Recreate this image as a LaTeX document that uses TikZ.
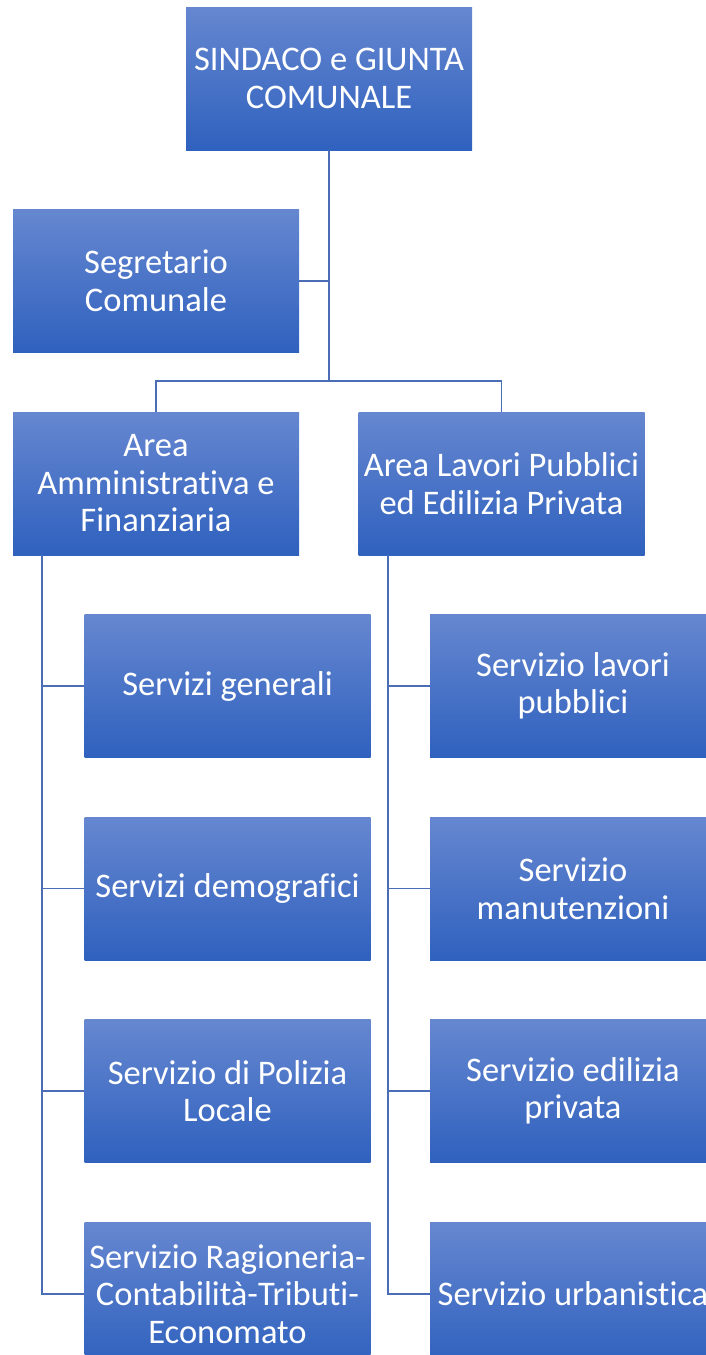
\documentclass[tikz,border=0pt]{standalone}
\usepackage{fontspec}
\setmainfont{Carlito}[Ligatures=NoCommon]
\definecolor{boxtop}{HTML}{6687D0}
\definecolor{boxbot}{HTML}{2F61BE}
\definecolor{linec}{HTML}{4A6DB5}
\begin{document}
\begin{tikzpicture}[x=1pt,y=1pt,
  orgbox/.style={rectangle, inner sep=0pt, minimum width=286pt, minimum height=143pt,
    top color=boxtop, bottom color=boxbot, draw=none, text=white, align=center,
    font=\fontsize{34.5}{37.5}\selectfont},
  conn/.style={draw=linec, line width=1.5pt}]
\useasboundingbox (0,-1355) rectangle (706,0);
\clip (0,-1355) rectangle (706,0);
% boxes
\node[orgbox] (top) at (329,-78.5) {SINDACO e GIUNTA\\COMUNALE};
\node[orgbox] (seg) at (156,-281) {Segretario\\Comunale};
\node[orgbox] (amm) at (156,-483.5) {Area\\Amministrativa e\\Finanziaria};
\node[orgbox] (lav) at (501.5,-483.5) {Area Lavori Pubblici\\ed Edilizia Privata};
\node[orgbox] (l1) at (227.5,-686) {Servizi generali};
\node[orgbox] (l2) at (227.5,-888.5) {Servizi demografici};
\node[orgbox] (l3) at (227.5,-1091) {Servizio di Polizia\\Locale};
\node[orgbox] (l4) at (227.5,-1294) {Servizio Ragioneria-\\Contabilità-Tributi-\\Economato};
\node[orgbox] (r1) at (573,-686) {Servizio lavori\\pubblici};
\node[orgbox] (r2) at (573,-888.5) {Servizio\\manutenzioni};
\node[orgbox] (r3) at (573,-1091) {Servizio edilizia\\privata};
\node[orgbox] (r4) at (573,-1294) {Servizio urbanistica};
% connectors
\coordinate (j) at (329,-381);
\draw[conn] (top.south) -- (j);
\draw[conn] (seg.east) -- (seg.east -| j);
\draw[conn] (amm.north) |- (j);
\draw[conn] (lav.north) |- (j);
\coordinate (ls) at (42,-555);
\draw[conn] (ls) |- (l4.west);
\draw[conn] (l1.west) -- (l1.west -| ls);
\draw[conn] (l2.west) -- (l2.west -| ls);
\draw[conn] (l3.west) -- (l3.west -| ls);
\coordinate (rs) at (388,-555);
\draw[conn] (rs) |- (r4.west);
\draw[conn] (r1.west) -- (r1.west -| rs);
\draw[conn] (r2.west) -- (r2.west -| rs);
\draw[conn] (r3.west) -- (r3.west -| rs);
\end{tikzpicture}
\end{document}
